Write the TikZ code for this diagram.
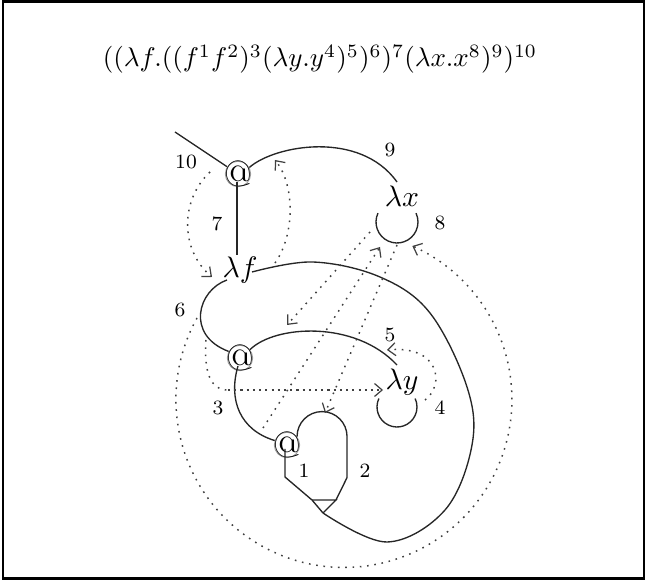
\documentclass[tikz,border=0pt]{standalone}
\usetikzlibrary{arrows.meta,calc}
\begin{document}
\begin{tikzpicture}[x=0.37pt,y=-0.37pt,
  edge/.style={line width=0.5pt, black!85},
  tipb/.style={-{Straight Barb[length=2.8pt,width=4.8pt,line width=0.45pt]}},
  dotl/.style={line width=0.55pt, black!75, dash pattern=on 0.6pt off 2.1pt},
  dotarrow/.style={dotl, tipb},
  dashl/.style={line width=0.5pt, black!75, dash pattern=on 0.8pt off 1.5pt, tipb},
  lam/.style={inner sep=0.5pt, font=\fontsize{11}{13}\selectfont},
  app/.style={circle, draw=black!40, line width=0.3pt, minimum size=9.4pt, inner sep=-4pt, font=\fontsize{13.5}{15}\selectfont},
  lbl/.style={inner sep=0pt, font=\fontsize{7.5}{9}\selectfont}]
\useasboundingbox (0,0) rectangle (647,581);
\draw[line width=0.8pt] (3,1.5) rectangle (644,578.5);
% title
\node[anchor=base, font=\fontsize{10.2}{12}\selectfont] (title) at (320,67)
  {$((\lambda f.((f^1f^2)^3(\lambda y.y^4)^5)^6)^7(\lambda x.x^8)^9)^{10}$};
% nodes
\node[app] (a10) at (238,174) {@};
\node[lam] (lf) at (240,270) {$\lambda f$};
\node[lam] (lx) at (402,196) {$\lambda x$};
\node[lam] (ly) at (402,382) {$\lambda y$};
\node[app] (a3) at (240,358) {@};
\node[app] (a1) at (287,445) {@};
\coordinate (root) at (175,132);
\coordinate (fanL) at (312,500);
\coordinate (fanR) at (336,500);
\coordinate (fanP) at (323,513);
% labels
\node[lbl] (l10) at (186,162) {10};
\node[lbl] (l9) at (390,150) {9};
\node[lbl] (l8) at (440,223) {8};
\node[lbl] (l7) at (217,224) {7};
\node[lbl] (l6) at (180,310) {6};
\node[lbl] (l5) at (390,335) {5};
\node[lbl] (l4) at (440,408) {4};
\node[lbl] (l3) at (218,408) {3};
\node[lbl] (l2) at (365,471) {2};
\node[lbl] (l1) at (304,471) {1};
% solid edges
\draw[edge] (root) -- (a10);
\draw[edge] ($(a10.center)+(-1,8)$) -- ($(lf.center)+(-3,-15)$);
\draw[edge] (a10.30) .. controls (275,145) and (360,130) .. ($(lx.center)+(-5,-14)$);
\draw[edge] ($(lx.center)+(-5,26)$) ++(205:21) arc[start angle=205, end angle=-25, radius=21];
\draw[edge] ($(ly.center)+(-5,25)$) ++(205:20) arc[start angle=205, end angle=-25, radius=20];
\draw[edge] (a3.40) .. controls (275,325) and (355,320) .. ($(ly.center)+(-5,-17)$);
\draw[edge] ($(lf.center)+(-13,10)$) .. controls (198,290) and (185,335) .. (a3.150);
\draw[edge] ($(a3.center)+(-2,8)$) .. controls (228,400) and (240,430) .. (a1.160);
\draw[edge] (a1.40) arc[start angle=180, end angle=360, radius=25] -- ++(0,41) -- (fanR);
\draw[edge] (fanL) -- (fanR) -- (fanP);
\draw[edge] ($(a1.center)+(-2,4)$) -- (285,477) -- (fanL) -- (fanP);
\draw[edge] plot[smooth, tension=0.6] coordinates {(fanP) (387,542) (445,510) (472,445) (467,387) (430,313) (380,277) (313,262) (252,272)};
% dotted edges
\draw[dotarrow] ($(a10)+(-28,-2)$) .. controls (180,200) and (180,250) .. ($(lf)+(-28,7)$);
\draw[dotarrow] ($(lf)+(35,-7)$) .. controls (295,235) and (295,185) .. ($(a10)+(37,-14)$);
\draw[dotarrow] ($(lx)+(-32,36)$) -- ($(a3)+(47,-33)$);
\draw[dotarrow] ($(a1)+(-24,-17)$) -- ($(lx)+(-22,51)$);
\draw[dotarrow] ($(lx)+(-5,49)$) -- ($(a1)+(38,-32)$);
\draw[dotarrow] ($(ly)+(23,18)$) .. controls (445,385) and (440,345) .. ($(ly)+(-15,-32)$);
\draw[dotl] ($(a3)+(-34,-18)$) .. controls (204,372) and (210,390) .. (228,390);
\draw[dashl] (228,390) -- ($(ly)+(-19,8)$);
\draw[dotarrow] ($(lf)+(-43,48)$) arc[start angle=209, end angle=-66, radius=168];
\end{tikzpicture}
\end{document}
